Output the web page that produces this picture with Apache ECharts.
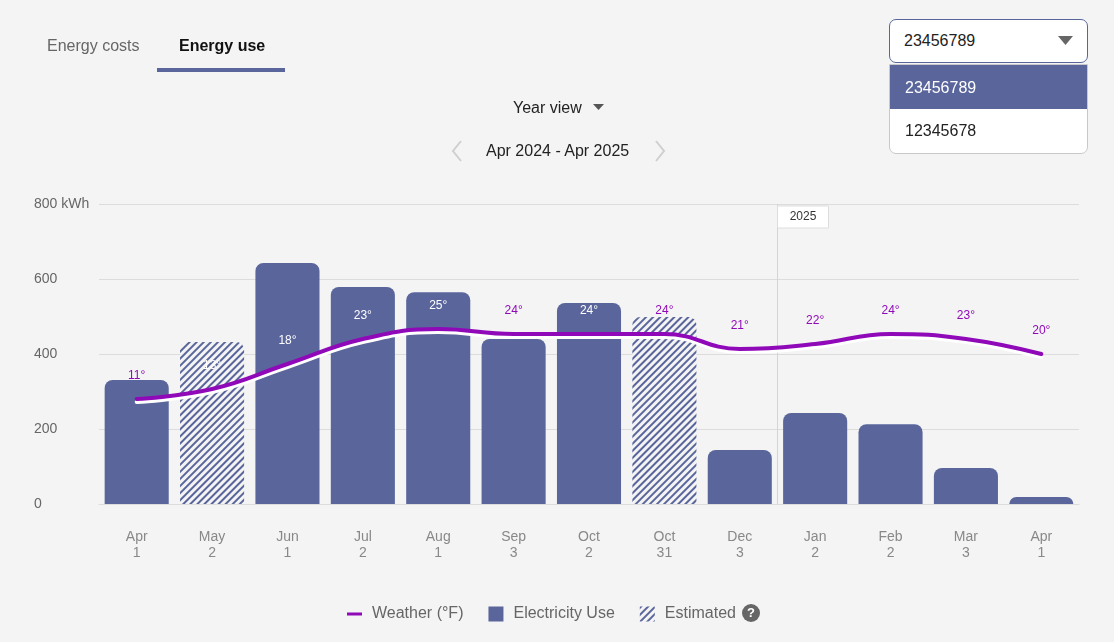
<!DOCTYPE html>
<html>
<head>
<meta charset="utf-8">
<script src="https://cdn.jsdelivr.net/npm/echarts@6/dist/echarts.min.js"></script>
<style>
  html, body { margin:0; padding:0; background:#f4f4f4; font-family:"Liberation Sans", Arial, sans-serif; }
  #wrap { position:relative; width:1114px; height:642px; overflow:hidden; }
  #chart { position:absolute; left:0; top:0; width:1114px; height:642px; }
  .abs { position:absolute; white-space:nowrap; }
</style>
</head>
<body>
<div id="wrap">
  <div id="chart"></div>
  <div class="abs" style="left:47px;top:37px;font-size:16px;color:#666;">Energy costs</div>
  <div class="abs" style="left:179px;top:37px;font-size:16px;color:#111;font-weight:bold;">Energy use</div>
  <div class="abs" style="left:157px;top:68px;width:128px;height:4px;background:#5a669b;"></div>

  <div class="abs" style="left:513px;top:99px;font-size:16px;color:#222;">Year view</div>
  <svg class="abs" style="left:593px;top:104px;" width="12" height="8"><path d="M0,0 L11,0 L5.5,6 Z" fill="#555"/></svg>

  <svg class="abs" style="left:450px;top:139px;" width="14" height="24"><path d="M11,2 L3,12 L11,22" stroke="#cfcfcf" stroke-width="2" fill="none"/></svg>
  <div class="abs" style="left:486px;top:142px;font-size:16px;color:#222;">Apr 2024 - Apr 2025</div>
  <svg class="abs" style="left:653px;top:139px;" width="14" height="24"><path d="M3,2 L11,12 L3,22" stroke="#cfcfcf" stroke-width="2" fill="none"/></svg>

  <div class="abs" style="left:889px;top:19px;width:197px;height:42px;border:1px solid #5a669b;border-radius:7px;background:#fff;"></div>
  <div class="abs" style="left:904px;top:32px;font-size:16px;color:#222;">23456789</div>
  <svg class="abs" style="left:1058px;top:36px;" width="16" height="10"><path d="M0,0 L15,0 L7.5,9 Z" fill="#666"/></svg>

  <div class="abs" style="left:889px;top:64px;width:197px;height:88px;border:1px solid #c8c8c8;border-radius:0 0 7px 7px;background:#fff;overflow:hidden;">
    <div style="height:44px;background:#5a669b;color:#fff;font-size:16px;line-height:46px;padding-left:15px;">23456789</div>
    <div style="height:44px;color:#222;font-size:16px;line-height:44px;padding-left:15px;">12345678</div>
  </div>

  <div class="abs" style="left:742px;top:604px;width:18px;height:18px;border-radius:9px;background:#666;color:#fff;font-size:13px;font-weight:bold;text-align:center;line-height:18px;">?</div>
</div>
<script>
// ---- data ----
var months = ['Apr','May','Jun','Jul','Aug','Sep','Oct','Oct','Dec','Jan','Feb','Mar','Apr'];
var days   = ['1','2','1','2','1','3','2','31','3','2','2','3','1'];
var categoryKeys = ['2024-04-01','2024-05-02','2024-06-01','2024-07-02','2024-08-01','2024-09-03','2024-10-02','2024-10-31','2024-12-03','2025-01-02','2025-02-02','2025-03-03','2025-04-01'];
var usageActual    = [331, null, 643, 579, 565, 440, 536, null, 144, 243, 213, 96, 19];
var usageEstimated = [null, 432, null, null, null, null, null, 499, null, null, null, null, null];
var weatherF = [11, 13, 18, 23, 25, 24, 24, 24, 21, 22, 24, 23, 20];
var labelInside = [false, true, true, true, true, false, true, false, false, false, false, false, false];
var yTicks = [0, 200, 400, 600, 800];
var yTickLabels = ['0', '200', '400', '600', '800 kWh'];
var yearMarkText = '2025';
var yearMarkIndex = 9; // first category of 2025

var BLUE = '#5a669b';
var PURPLE = '#9009b8';

var chart = echarts.init(document.getElementById('chart'));
var option = {
  backgroundColor: '#f4f4f4',
  animation: false,
  textStyle: { fontFamily: '"Liberation Sans", Arial, sans-serif' },
  grid: { left: 99, right: 35, top: 204, bottom: 138 },
  legend: {
    top: 601, left: 342, itemGap: 25, itemWidth: 15, itemHeight: 15,
    textStyle: { fontSize: 16, color: '#666', padding: [0, 0, 0, 5] },
    selectedMode: false,
    data: [
      { name: 'Weather (°F)', icon: 'path://M0,0h20v4H0z', itemStyle: { color: PURPLE } },
      { name: 'Electricity Use', icon: 'rect' },
      { name: 'Estimated', icon: 'rect' }
    ]
  },
  xAxis: {
    type: 'category',
    data: categoryKeys,
    axisTick: { show: false },
    axisLine: { lineStyle: { color: '#dcdcdc' } },
    axisLabel: {
      interval: 0, margin: 25, color: '#888', fontSize: 14, lineHeight: 16,
      formatter: function (v, i) { return months[i] + '\n' + days[i]; }
    }
  },
  yAxis: [{
    type: 'value', min: 0, max: 800, interval: 200,
    axisLine: { show: false }, axisTick: { show: false },
    splitLine: { lineStyle: { color: '#dcdcdc' } },
    axisLabel: {
      color: '#666', fontSize: 14, align: 'left', margin: 65,
      formatter: function (v) { var k = yTicks.indexOf(v); return k >= 0 ? yTickLabels[k] : ''; }
    }
  }, {
    type: 'value', min: -10, max: 50, show: false
  }],
  series: [{
    name: 'Electricity Use', type: 'bar', data: usageActual,
    barCategoryGap: '15%', barGap: '-100%',
    itemStyle: { color: BLUE, borderRadius: [8, 8, 0, 0] },
    z: 2
  }, {
    name: 'Estimated', type: 'bar', data: usageEstimated,
    barCategoryGap: '15%', barGap: '-100%',
    itemStyle: {
      color: '#f4f4f4', borderRadius: [8, 8, 0, 0],
      decal: { symbol: 'rect', symbolSize: 1, color: BLUE, dashArrayX: [1, 0], dashArrayY: [2, 2.2], rotation: -Math.PI / 4 }
    },
    z: 2
  }, {
    name: 'Weather (°F)', type: 'line', yAxisIndex: 1, data: weatherF.map(function (t, i) {
      return { value: t, label: { color: labelInside[i] ? '#ffffff' : PURPLE } };
    }),
    smooth: 0.45, symbol: 'circle', symbolSize: 1, showSymbol: true,
    itemStyle: { color: 'rgba(0,0,0,0)' },
    lineStyle: { color: PURPLE, width: 4, shadowColor: '#ffffff', shadowOffsetY: 3, shadowBlur: 0, cap: 'round' },
    label: { show: true, position: 'top', distance: 17, fontSize: 12, formatter: function (p) { return p.value + '°'; } },
    z: 5
  }]
};
chart.setOption(option);

// year separator via the axis scale
var xA = chart.convertToPixel({ xAxisIndex: 0 }, yearMarkIndex - 1);
var xB = chart.convertToPixel({ xAxisIndex: 0 }, yearMarkIndex);
var xm = Math.round((xA + xB) / 2) + 0.5;
var yTop = chart.convertToPixel({ yAxisIndex: 0 }, 800);
var yBot = chart.convertToPixel({ yAxisIndex: 0 }, 0);
chart.setOption({
  graphic: [
    { type: 'line', shape: { x1: xm, y1: yTop, x2: xm, y2: yBot }, style: { stroke: '#d4d4d4', lineWidth: 1 }, z: 1 },
    { type: 'rect', shape: { x: xm, y: yTop + 2, width: 51, height: 22 }, style: { fill: '#fff', stroke: '#dddddd', lineWidth: 1 }, z: 10 },
    { type: 'text', x: xm + 25.5, y: yTop + 13, style: { text: yearMarkText, fill: '#333', fontSize: 12, align: 'center', verticalAlign: 'middle', fontFamily: '"Liberation Sans", Arial, sans-serif' }, z: 11 }
  ]
});
</script>
</body>
</html>
